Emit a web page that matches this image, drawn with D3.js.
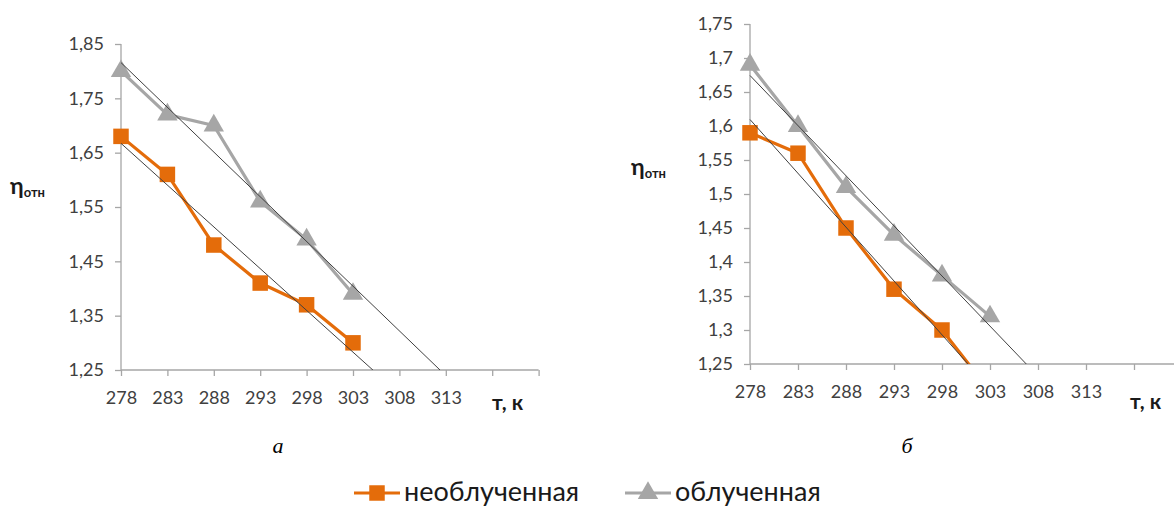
<!DOCTYPE html>
<html>
<head>
<meta charset="utf-8">
<script src="https://cdn.jsdelivr.net/npm/d3@7"></script>
<style>
  body { margin: 0; background: #fff; }
  svg { display: block; font-family: Lato, "Open Sans", sans-serif; }
</style>
</head>
<body>
<svg id="chart" width="1174" height="506"></svg>
<script>
// Temperatures, K
const temps = [278, 283, 288, 293, 298, 303];
const xTicks = [278, 283, 288, 293, 298, 303, 308, 313, 318, 323];
const xLabels = [278, 283, 288, 293, 298, 303, 308, 313];

// panel a
const leftPlain = [1.68, 1.61, 1.48, 1.41, 1.37, 1.30];
const leftIrrad = [1.80, 1.72, 1.70, 1.56, 1.49, 1.39];
const leftYTicks = [1.25, 1.35, 1.45, 1.55, 1.65, 1.75, 1.85];

// panel b (last orange point falls below the axis, Excel hides it)
const rightPlain = [1.59, 1.56, 1.45, 1.36, 1.30, 1.21];
const rightIrrad = [1.69, 1.60, 1.51, 1.44, 1.38, 1.32];
const rightYTicks = [1.25, 1.3, 1.35, 1.4, 1.45, 1.5, 1.55, 1.6, 1.65, 1.7, 1.75];

const seriesNames = ["необлученная", "облученная"];

const orange = "#E46C0A";
const grey = "#A6A6A6";
const axisColor = "#A6A6A6";
const trendColor = "#404040";

const svg = d3.select("#chart");

// least squares line, like Excel's linear trendline
function linearFit(xs, ys) {
    const mx = d3.mean(xs), my = d3.mean(ys);
    let num = 0, den = 0;
    xs.forEach((x, i) => { num += (x - mx) * (ys[i] - my); den += (x - mx) ** 2; });
    const slope = num / den;
    return x => my + slope * (x - mx);
}

const fmt = v => d3.format(".2~f")(v).replace(".", ",");

function drawPanel(id, opts) {
    const x = d3.scaleLinear().domain([278, 323]).range(opts.xRange);
    const y = d3.scaleLinear().domain(opts.yDomain).range(opts.yRange);
    const g = svg.append("g").attr("id", id);

    // clip everything below the x axis
    g.append("clipPath").attr("id", id + "-clip")
        .append("rect")
        .attr("x", opts.xRange[0] - 20).attr("y", 0)
        .attr("width", 1174).attr("height", opts.yRange[0]);

    // axes
    const yAxis = g.append("g")
        .attr("transform", `translate(${opts.xRange[0]},0)`)
        .call(d3.axisLeft(y).tickValues(opts.yTicks).tickFormat(fmt).tickSize(6).tickPadding(11));
    const xAxis = g.append("g")
        .attr("transform", `translate(0,${opts.yRange[0]})`)
        .call(d3.axisBottom(x).tickValues(xTicks)
            .tickFormat(d => xLabels.includes(d) ? d : "").tickSize(6).tickPadding(15));
    [yAxis, xAxis].forEach(a => {
        a.select(".domain").attr("stroke", axisColor).attr("stroke-width", 1.3);
        a.selectAll(".tick line").attr("stroke", axisColor).attr("stroke-width", 1.3);
        a.selectAll(".tick text").attr("fill", "#404040").style("font-size", "18px")
            .style("font-family", "Lato, sans-serif");
    });
    xAxis.select(".domain").attr("d", `M${opts.xRange[0]},0H${opts.xRange[1]}`);
    yAxis.select(".domain").attr("d", `M0,${opts.yRange[1]}V${opts.yRange[0]}`);

    const plot = g.append("g").attr("clip-path", `url(#${id}-clip)`);

    const line = d3.line().x(d => x(d[0])).y(d => y(d[1]));
    const series = [
        { values: opts.plain, color: orange, shape: d3.symbolSquare, size: 240 },
        { values: opts.irrad, color: grey, shape: d3.symbolTriangle, size: 180 }
    ];

    series.forEach(s => {
        const pts = temps.map((t, i) => [t, s.values[i]]);
        plot.append("path")
            .attr("d", line(pts))
            .attr("fill", "none")
            .attr("stroke", s.color)
            .attr("stroke-width", 3.2)
            .attr("stroke-linejoin", "round");
        plot.selectAll(null)
            .data(pts)
            .enter()
            .append("path")
            .attr("d", d3.symbol().type(s.shape).size(s.size))
            .attr("transform", d => `translate(${x(d[0])},${y(d[1])})`)
            .attr("fill", s.color);
    });

    // trendlines drawn over the series
    series.forEach(s => {
        const f = linearFit(temps, s.values);
        plot.append("path")
            .attr("d", line([[278, f(278)], [323, f(323)]]))
            .attr("stroke", trendColor)
            .attr("stroke-width", 1)
            .attr("fill", "none");
    });

    // axis titles
    const yt = g.append("text")
        .attr("x", opts.yTitle[0]).attr("y", opts.yTitle[1])
        .attr("fill", "#1a1a1a").style("font-weight", "bold");
    yt.append("tspan").text("η").style("font-size", "23px");
    yt.append("tspan").text("отн").style("font-size", "13px").attr("dy", 3);

    g.append("text")
        .attr("x", opts.xTitle[0]).attr("y", opts.xTitle[1])
        .attr("fill", "#1a1a1a").style("font-weight", "bold").style("font-size", "21px")
        .text("т, к");

    g.append("text")
        .attr("x", opts.caption[0]).attr("y", opts.caption[1])
        .attr("text-anchor", "middle")
        .style("font-family", "'Liberation Serif', serif")
        .style("font-style", "italic").style("font-size", "22px")
        .text(opts.captionText);
}

drawPanel("pa", {
    xRange: [121, 538.6], yDomain: [1.25, 1.85], yRange: [370, 44],
    yTicks: leftYTicks, plain: leftPlain, irrad: leftIrrad,
    yTitle: [10, 194], xTitle: [492, 410], caption: [278, 453], captionText: "а"
});

drawPanel("pb", {
    xRange: [750, 1182], yDomain: [1.25, 1.75], yRange: [364, 24],
    yTicks: rightYTicks, plain: rightPlain, irrad: rightIrrad,
    yTitle: [631, 175], xTitle: [1130, 409], caption: [907, 453], captionText: "б"
});

// legend
const legend = svg.append("g").attr("transform", "translate(0,493)");
const legendItems = [
    { name: seriesNames[0], color: orange, shape: d3.symbolSquare, size: 240, x: 354 },
    { name: seriesNames[1], color: grey, shape: d3.symbolTriangle, size: 180, x: 625 }
];
legendItems.forEach(it => {
    legend.append("line")
        .attr("x1", it.x).attr("x2", it.x + 46)
        .attr("stroke", it.color).attr("stroke-width", 3.2);
    legend.append("path")
        .attr("d", d3.symbol().type(it.shape).size(it.size))
        .attr("transform", `translate(${it.x + 23},0)`)
        .attr("fill", it.color);
    legend.append("text")
        .attr("x", it.x + 50).attr("y", 8)
        .attr("fill", "#1a1a1a").style("font-size", "27px")
        .text(it.name);
});
</script>
</body>
</html>
